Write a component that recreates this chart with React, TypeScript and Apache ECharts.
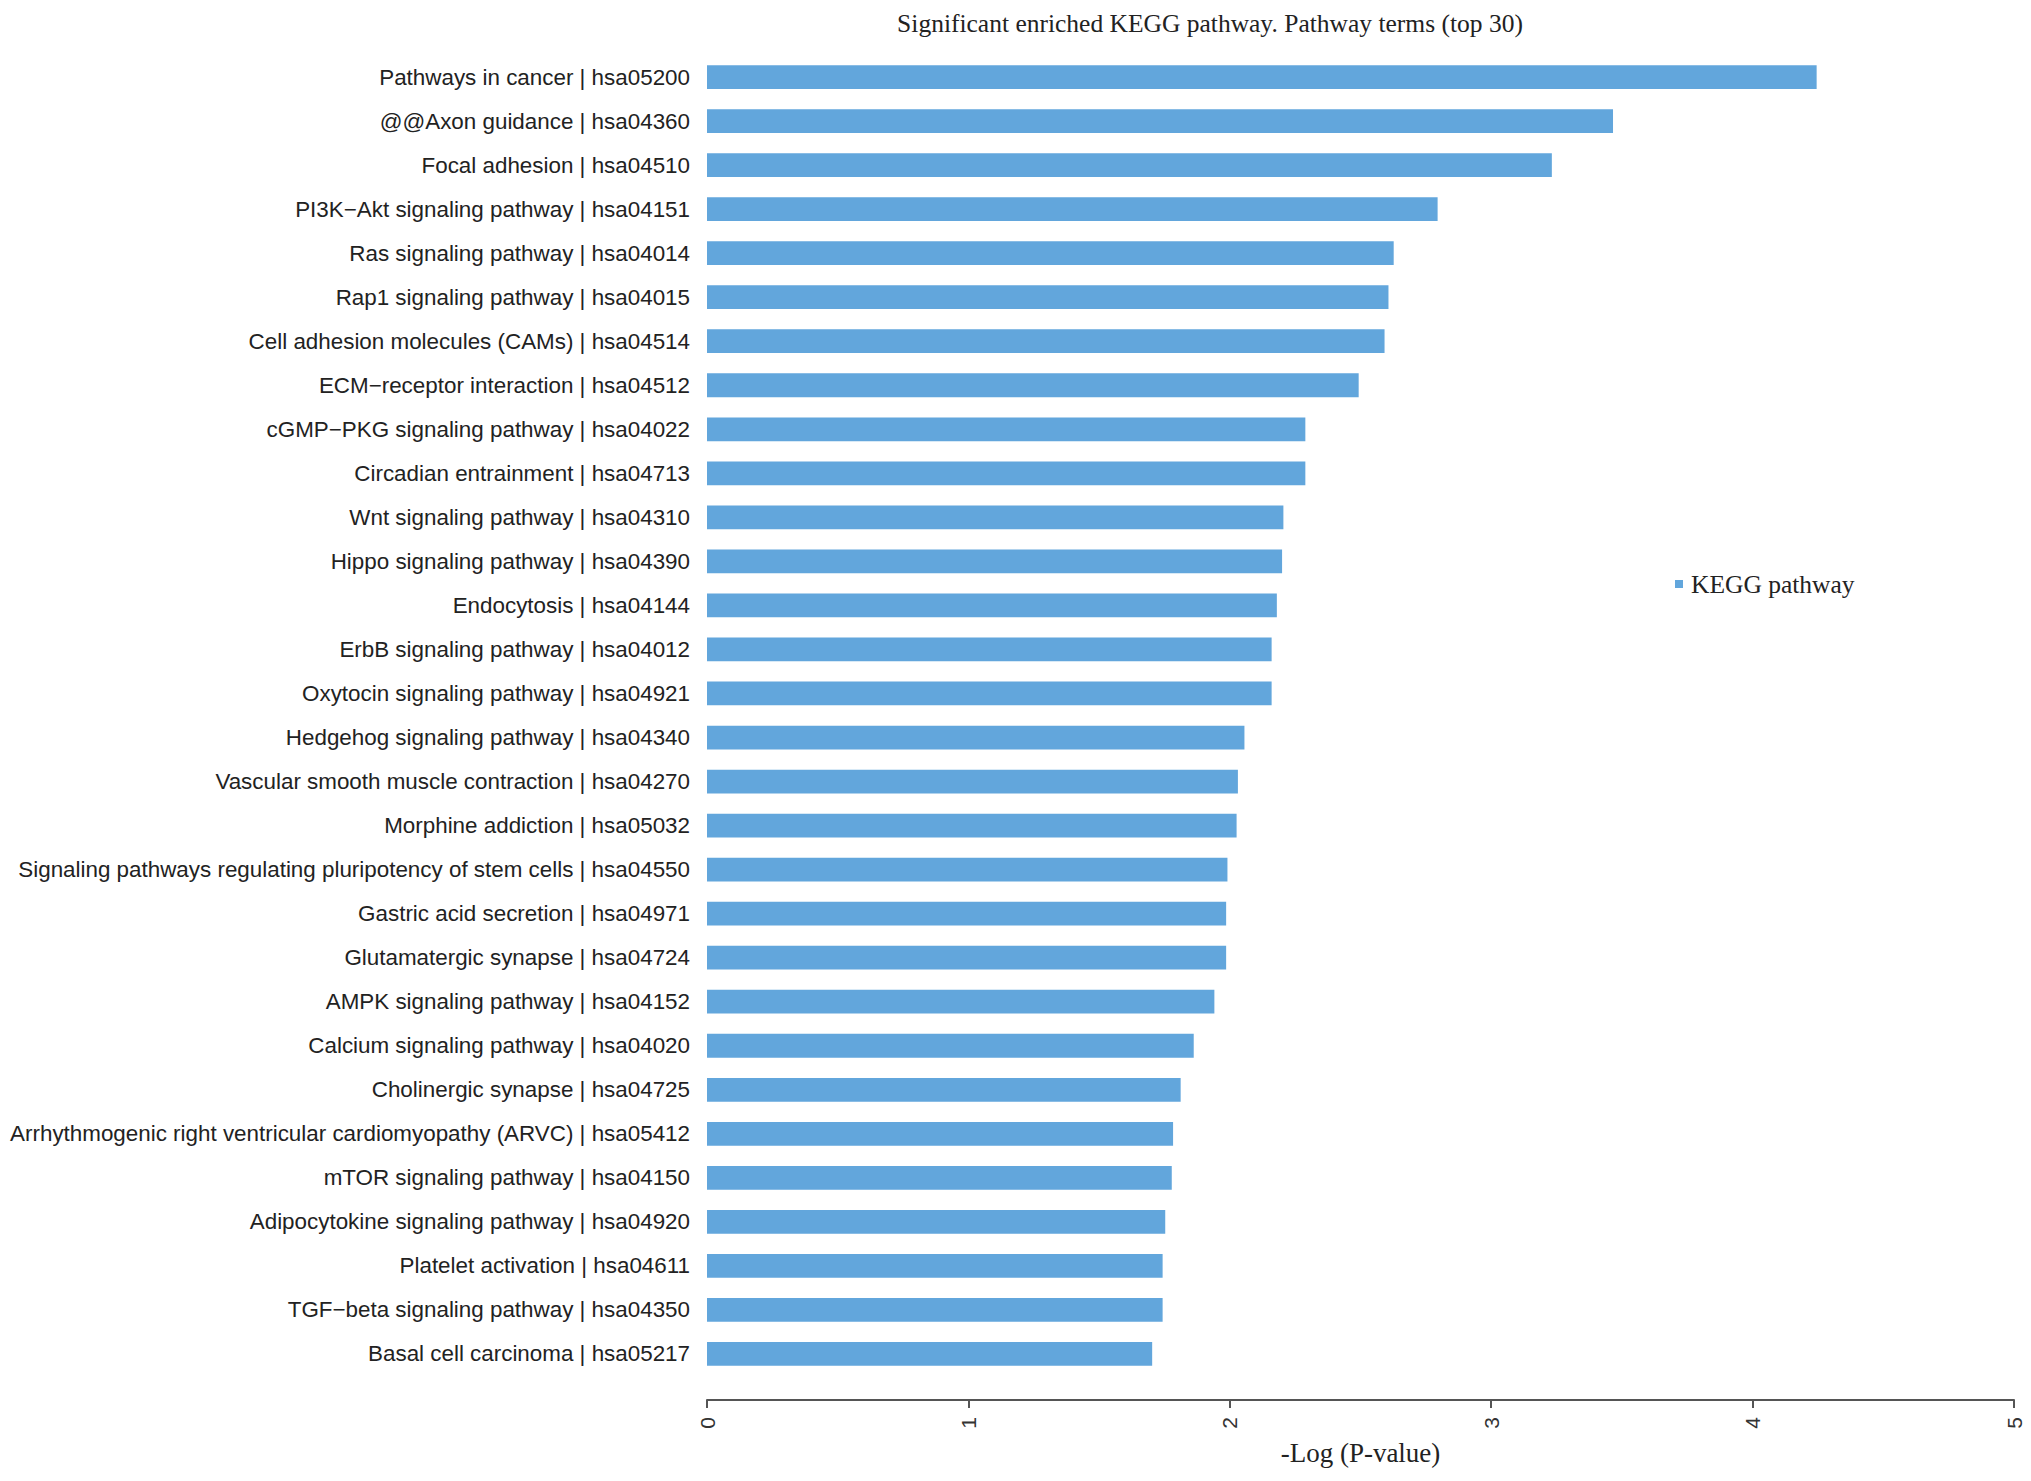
import React, { useEffect, useRef } from "react";
import * as echarts from "echarts";

const categories = [
  "Pathways in cancer | hsa05200",
  "@@Axon guidance | hsa04360",
  "Focal adhesion | hsa04510",
  "PI3K\u2212Akt signaling pathway | hsa04151",
  "Ras signaling pathway | hsa04014",
  "Rap1 signaling pathway | hsa04015",
  "Cell adhesion molecules (CAMs) | hsa04514",
  "ECM\u2212receptor interaction | hsa04512",
  "cGMP\u2212PKG signaling pathway | hsa04022",
  "Circadian entrainment | hsa04713",
  "Wnt signaling pathway | hsa04310",
  "Hippo signaling pathway | hsa04390",
  "Endocytosis | hsa04144",
  "ErbB signaling pathway | hsa04012",
  "Oxytocin signaling pathway | hsa04921",
  "Hedgehog signaling pathway | hsa04340",
  "Vascular smooth muscle contraction | hsa04270",
  "Morphine addiction | hsa05032",
  "Signaling pathways regulating pluripotency of stem cells | hsa04550",
  "Gastric acid secretion | hsa04971",
  "Glutamatergic synapse | hsa04724",
  "AMPK signaling pathway | hsa04152",
  "Calcium signaling pathway | hsa04020",
  "Cholinergic synapse | hsa04725",
  "Arrhythmogenic right ventricular cardiomyopathy (ARVC) | hsa05412",
  "mTOR signaling pathway | hsa04150",
  "Adipocytokine signaling pathway | hsa04920",
  "Platelet activation | hsa04611",
  "TGF\u2212beta signaling pathway | hsa04350",
  "Basal cell carcinoma | hsa05217",
];

const values = [
  4.245, 3.466, 3.232, 2.795, 2.627, 2.607, 2.592, 2.493, 2.289, 2.289,
  2.205, 2.2, 2.18, 2.16, 2.16, 2.056, 2.031, 2.026, 1.991, 1.986,
  1.986, 1.941, 1.862, 1.812, 1.783, 1.778, 1.753, 1.743, 1.743, 1.703,
];

const xTicks = { min: 0, max: 5, interval: 1 };

const seriesName = "KEGG pathway";
const titleText = "Significant enriched KEGG pathway. Pathway terms (top 30)";
const xAxisName = "-Log (P-value)";

export default function App() {
  const ref = useRef<HTMLDivElement>(null);
  useEffect(() => {
    if (!ref.current) return;
    const chart = echarts.init(ref.current, null, { renderer: "svg" });
    const serif = "'Liberation Serif', 'DejaVu Serif', serif";
    const sans = "'Liberation Sans', Arial, sans-serif";
    chart.setOption({
      animation: false,
      backgroundColor: "#ffffff",
      title: {
        text: titleText,
        left: 1205,
        top: 5,
        textAlign: "center",
        textStyle: {
          fontFamily: serif,
          fontSize: 25.5,
          fontWeight: "normal",
          color: "#222",
        },
      },
      legend: {
        data: [seriesName],
        left: 1670,
        top: 566,
        itemWidth: 8,
        itemHeight: 8,
        icon: "rect",
        textStyle: {
          fontFamily: serif,
          fontSize: 25.5,
          color: "#222",
          padding: [0, 0, 0, 3],
        },
      },
      grid: {
        left: 707,
        right: 17,
        top: 55,
        bottom: 105,
        containLabel: false,
      },
      xAxis: {
        type: "value",
        min: xTicks.min,
        max: xTicks.max,
        interval: xTicks.interval,
        offset: 24,
        name: xAxisName,
        nameLocation: "middle",
        nameGap: 39,
        nameTextStyle: {
          fontFamily: serif,
          fontSize: 27,
          color: "#222",
        },
        axisLine: { show: true, lineStyle: { color: "#555", width: 2 } },
        axisTick: { show: true, length: 8, lineStyle: { color: "#555", width: 2 } },
        axisLabel: {
          rotate: 90,
          margin: 17,
          fontFamily: sans,
          fontSize: 21,
          color: "#333",
        },
        splitLine: { show: false },
      },
      yAxis: {
        type: "category",
        data: categories,
        inverse: true,
        axisLine: { show: false },
        axisTick: { show: false },
        axisLabel: {
          margin: 17,
          fontFamily: sans,
          fontSize: 22.4,
          color: "#222",
        },
      },
      series: [
        {
          name: seriesName,
          type: "bar",
          data: values,
          barWidth: "54%",
          itemStyle: { color: "#62A6DC" },
        },
      ],
    });
    return () => chart.dispose();
  }, []);
  return (
    <div
      ref={ref}
      style={{ position: "fixed", left: 0, top: 0, width: 2031, height: 1481 }}
    />
  );
}
